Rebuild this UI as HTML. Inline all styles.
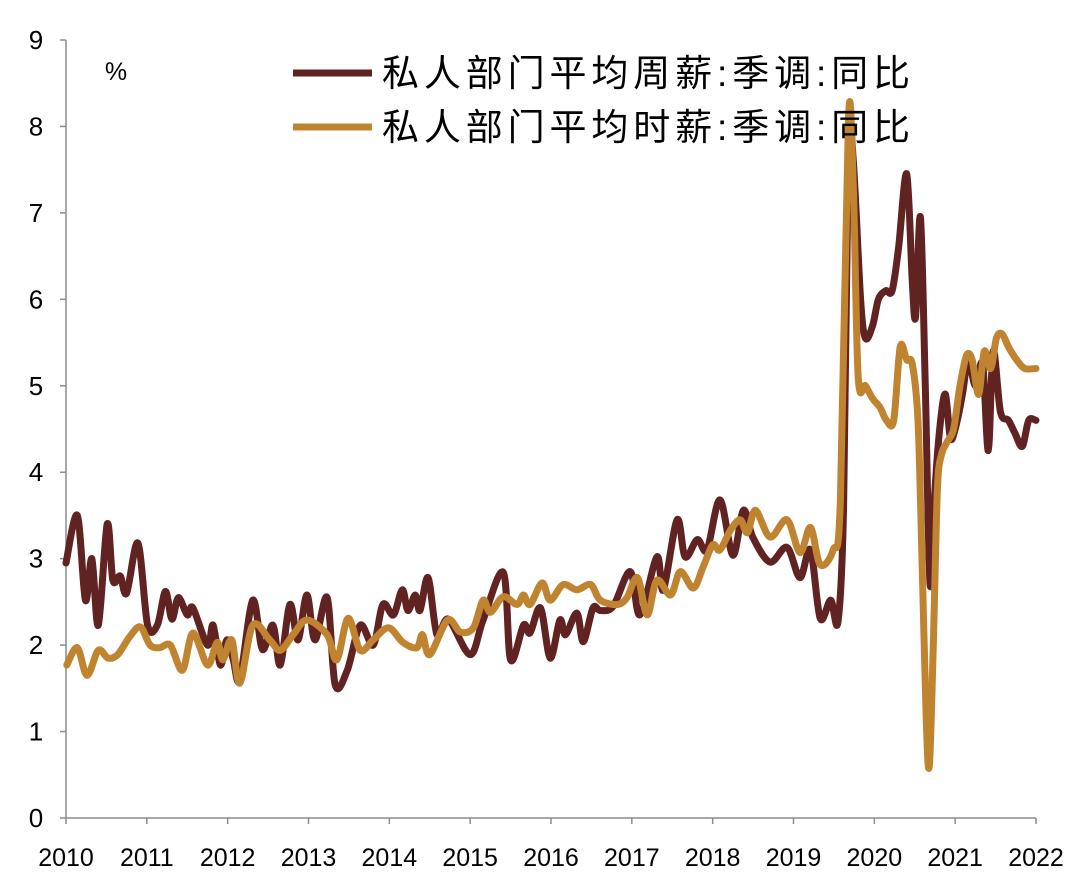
<!DOCTYPE html>
<html><head><meta charset="utf-8"><style>
body{margin:0;background:#fff;}
svg{display:block;font-family:"Liberation Sans","Noto Sans CJK SC",sans-serif;}
</style></head><body>
<svg id="chart" width="1080" height="879" viewBox="0 0 1080 879"></svg>
<script>
const yTicks=[0,1,2,3,4,5,6,7,8,9];
const xTicks=["2010","2011","2012","2013","2014","2015","2016","2017","2018","2019","2020","2021","2022"];
const weeklyT=[0,.14,.24,.32,.40,.51,.58,.67,.75,.89,1.01,1.13,1.23,1.31,1.39,1.50,1.57,1.75,1.82,1.91,1.99,2.07,2.15,2.31,2.43,2.56,2.65,2.77,2.87,2.98,3.08,3.23,3.33,3.48,3.64,3.80,3.92,4.05,4.16,4.23,4.32,4.38,4.48,4.59,4.73,5.00,5.16,5.41,5.50,5.66,5.74,5.87,5.99,6.11,6.18,6.32,6.40,6.52,6.61,6.77,6.98,7.10,7.31,7.39,7.56,7.66,7.81,7.93,8.09,8.25,8.38,8.50,8.71,8.92,9.08,9.21,9.33,9.46,9.55,9.62,9.68,9.74,9.83,9.89,9.98,10.05,10.14,10.22,10.30,10.40,10.47,10.51,10.57,10.63,10.69,10.75,10.82,10.88,10.94,11.00,11.09,11.16,11.25,11.34,11.41,11.47,11.56,11.66,11.74,11.83,11.91,12.0];
const weeklyV=[2.95,3.5,2.52,3.0,2.23,3.4,2.75,2.8,2.6,3.18,2.23,2.23,2.62,2.3,2.55,2.35,2.43,2.0,2.23,1.77,2.06,1.83,1.6,2.52,1.95,2.23,1.77,2.47,2.06,2.58,2.06,2.55,1.54,1.71,2.23,2.0,2.47,2.35,2.64,2.4,2.58,2.4,2.78,2.12,2.3,1.89,2.29,2.84,1.83,2.23,2.14,2.43,1.85,2.29,2.12,2.37,2.04,2.43,2.4,2.45,2.85,2.35,3.02,2.64,3.45,3.02,3.22,3.1,3.68,3.04,3.56,3.24,2.96,3.13,2.78,3.1,2.31,2.52,2.27,3.6,7.8,7.6,6.0,5.55,5.7,6.0,6.1,6.1,6.6,7.45,6.2,5.8,6.95,5.0,2.7,3.8,4.6,4.9,4.4,4.5,4.9,5.3,5.0,5.25,4.25,5.4,4.7,4.6,4.45,4.3,4.6,4.6];
const hourlyT=[.01,.14,.26,.40,.52,.64,.79,.92,1.04,1.16,1.29,1.44,1.57,1.75,1.87,1.94,2.05,2.15,2.31,2.52,2.65,2.81,2.98,3.23,3.35,3.49,3.64,3.80,3.99,4.17,4.34,4.41,4.50,4.72,4.88,5.04,5.16,5.25,5.41,5.58,5.66,5.74,5.89,5.99,6.15,6.32,6.49,6.61,6.82,6.94,7.07,7.19,7.31,7.48,7.60,7.76,7.88,8.00,8.09,8.22,8.34,8.43,8.53,8.71,8.92,9.08,9.21,9.33,9.49,9.58,9.68,9.74,9.80,9.89,9.98,10.07,10.15,10.24,10.32,10.40,10.47,10.54,10.59,10.64,10.68,10.73,10.78,10.83,10.90,10.98,11.06,11.14,11.21,11.29,11.36,11.44,11.51,11.58,11.66,11.76,11.86,12.0];
const hourlyV=[1.77,1.97,1.65,1.94,1.85,1.89,2.1,2.21,2.0,1.97,2.0,1.71,2.14,1.77,2.03,1.83,2.06,1.56,2.23,2.06,1.94,2.12,2.29,2.12,1.83,2.31,1.94,2.06,2.2,2.03,1.97,2.12,1.89,2.29,2.15,2.2,2.52,2.38,2.56,2.47,2.58,2.47,2.72,2.52,2.7,2.64,2.7,2.52,2.47,2.55,2.78,2.35,2.75,2.58,2.85,2.66,2.9,3.16,3.1,3.33,3.45,3.3,3.56,3.25,3.45,3.07,3.36,2.93,3.1,3.68,8.1,7.3,5.1,5.0,4.85,4.75,4.6,4.6,5.45,5.3,5.25,4.6,3.0,1.2,0.6,2.0,3.8,4.2,4.35,4.5,5.0,5.35,5.3,4.9,5.4,5.2,5.55,5.6,5.45,5.3,5.2,5.2];

const NS="http://www.w3.org/2000/svg";
const svg=document.getElementById('chart');
const X0=66,X1=1036,Y0=818,Y9=40;
const xs=t=>X0+t*(X1-X0)/12;
const ys=v=>Y0-v*(Y0-Y9)/9;
function mk(tag,attrs,parent){const e=document.createElementNS(NS,tag);for(const k in attrs)e.setAttribute(k,attrs[k]);(parent||svg).appendChild(e);return e;}

const axes=mk('g',{});


const yl=mk('line',{x1:X0,y1:Y9,x2:X0,y2:Y0,stroke:'#8c8c8c','stroke-width':1.5},axes);


const xl=mk('line',{x1:X0,y1:Y0,x2:X1,y2:Y0,stroke:'#8c8c8c','stroke-width':1.5},axes);


yTicks.forEach(v=>{
  const tk=mk('line',{x1:X0-6,y1:ys(v),x2:X0,y2:ys(v),stroke:'#8c8c8c','stroke-width':1.5},axes);
  
  
  const t=mk('text',{x:36,y:ys(v)+9,'font-size':26,'text-anchor':'middle',fill:'#000'},axes);
  
  
  t.textContent=v;
});
xTicks.forEach((lab,i)=>{
  const x=xs(i);
  const tk=mk('line',{x1:x,y1:Y0,x2:x,y2:Y0+6,stroke:'#8c8c8c','stroke-width':1.5},axes);
  
  
  const t=mk('text',{x:x,y:866,'font-size':25,'text-anchor':'middle',fill:'#000'},axes);
  
  
  t.textContent=lab;
});
const unit=mk('text',{x:116,y:80,'font-size':25,'text-anchor':'middle'});


unit.textContent='%';

function pathD(T,V){
  const p=T.map((t,i)=>[xs(t),ys(V[i])]);
  let d='M'+p[0][0].toFixed(1)+','+p[0][1].toFixed(1);
  for(let i=0;i<p.length-1;i++){
    const p0=p[i-1]||p[i],p1=p[i],p2=p[i+1],p3=p[i+2]||p2;
    const k=0.16;
    const c1=[p1[0]+(p2[0]-p0[0])*k,p1[1]+(p2[1]-p0[1])*k];
    const c2=[p2[0]-(p3[0]-p1[0])*k,p2[1]-(p3[1]-p1[1])*k];
    d+='C'+c1.map(n=>n.toFixed(1))+' '+c2.map(n=>n.toFixed(1))+' '+p2[0].toFixed(1)+','+p2[1].toFixed(1);
  }
  return d;
}
const wl=mk('path',{d:pathD(weeklyT,weeklyV),fill:'none',stroke:'#612222','stroke-width':7,'stroke-linejoin':'round','stroke-linecap':'round'});


const hl=mk('path',{d:pathD(hourlyT,hourlyV),fill:'none',stroke:'#c08431','stroke-width':7,'stroke-linejoin':'round','stroke-linecap':'round'});



const legend=mk('g',{});


[['私人部门平均周薪:季调:同比','#612222',73],['私人部门平均时薪:季调:同比','#c08431',127]].forEach(([lab,c,y])=>{
  const ln=mk('line',{x1:293,y1:y,x2:372,y2:y,stroke:c,'stroke-width':7},legend);
  
  
  const t=mk('text',{x:382,y:y+13,'font-size':37,fill:'#000',textLength:528,lengthAdjust:'spacing'},legend);
  
  
  t.textContent=lab;
});
</script>
</body></html>
